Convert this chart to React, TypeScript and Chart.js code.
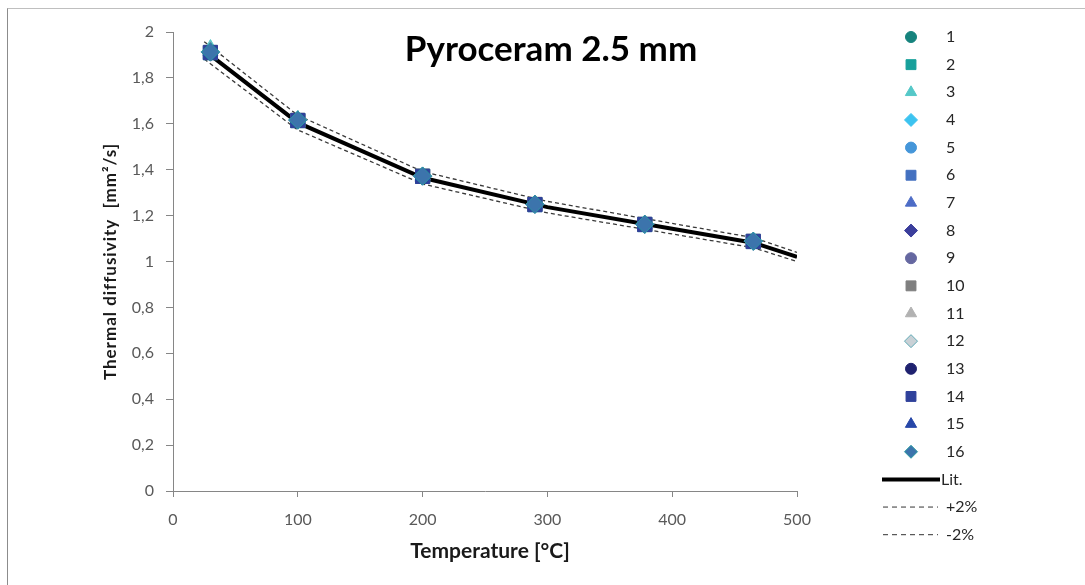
import React, { useEffect, useRef } from "react";
import { Chart, registerables } from "chart.js";

Chart.register(...registerables);

// ---------- data ----------
const temperatures = [30, 100, 200, 290, 378, 465];

const series1 = [1.912, 1.616, 1.372, 1.249, 1.162, 1.088];
const series2 = [1.910, 1.614, 1.371, 1.248, 1.161, 1.087];
const series3 = [1.930, 1.622, 1.375, 1.252, 1.164, 1.090];
const series4 = [1.914, 1.617, 1.372, 1.250, 1.162, 1.089];
const series5 = [1.913, 1.616, 1.373, 1.249, 1.163, 1.088];
const series6 = [1.911, 1.615, 1.371, 1.248, 1.162, 1.088];
const series7 = [1.918, 1.619, 1.374, 1.251, 1.163, 1.089];
const series8 = [1.912, 1.616, 1.372, 1.249, 1.162, 1.088];
const series9 = [1.913, 1.617, 1.373, 1.250, 1.163, 1.089];
const series10 = [1.911, 1.615, 1.372, 1.249, 1.162, 1.088];
const series11 = [1.920, 1.620, 1.374, 1.251, 1.164, 1.090];
const series12 = [1.914, 1.617, 1.373, 1.250, 1.163, 1.089];
const series13 = [1.912, 1.616, 1.372, 1.249, 1.162, 1.088];
const series14 = [1.910, 1.614, 1.371, 1.248, 1.161, 1.087];
const series15 = [1.916, 1.618, 1.373, 1.250, 1.163, 1.089];
const series16 = [1.913, 1.616, 1.372, 1.249, 1.162, 1.088];

const litTemperatures = [25, 100, 200, 300, 400, 465, 500];
const litValues = [1.92, 1.605, 1.365, 1.237, 1.143, 1.082, 1.02];
const plusTwoValues = [1.958, 1.637, 1.392, 1.262, 1.166, 1.104, 1.04];
const minusTwoValues = [1.882, 1.573, 1.338, 1.212, 1.12, 1.06, 1.0];

const seriesLabels = ["1", "2", "3", "4", "5", "6", "7", "8", "9", "10", "11", "12", "13", "14", "15", "16"];
const lineLabels = ["Lit.", "+2%", "-2%"];
const yTickLabels = ["0", "0,2", "0,4", "0,6", "0,8", "1", "1,2", "1,4", "1,6", "1,8", "2"];
const xTickLabels = ["0", "100", "200", "300", "400", "500"];

const titleText = "Pyroceram 2.5 mm";
const xTitleText = "Temperature [°C]";
const yTitleText = "Thermal diffusivity  [mm²/s]";

// ---------- styles ----------
const FONT = "Lato, 'Open Sans', 'DejaVu Sans', sans-serif";
const allSeries = [
  series1, series2, series3, series4, series5, series6, series7, series8,
  series9, series10, series11, series12, series13, series14, series15, series16,
];
const markerStyles = [
  { shape: "circle", fill: "#16837d", stroke: "#16837d" },
  { shape: "rect", fill: "#17a09b", stroke: "#17a09b" },
  { shape: "triangle", fill: "#55c8c8", stroke: "#55c8c8" },
  { shape: "rectRot", fill: "#3cc3f0", stroke: "#3cc3f0" },
  { shape: "circle", fill: "#4596d9", stroke: "#4596d9" },
  { shape: "rect", fill: "#4370c0", stroke: "#4370c0" },
  { shape: "triangle", fill: "#4d6cc6", stroke: "#4d6cc6" },
  { shape: "rectRot", fill: "#3b3e9c", stroke: "#3b3e9c" },
  { shape: "circle", fill: "#6567a0", stroke: "#6567a0" },
  { shape: "rect", fill: "#7f7f7f", stroke: "#7f7f7f" },
  { shape: "triangle", fill: "#b2b2b2", stroke: "#b2b2b2" },
  { shape: "rectRot", fill: "#c9d1d6", stroke: "#5fa8b4" },
  { shape: "circle", fill: "#1f216f", stroke: "#1f216f" },
  { shape: "rect", fill: "#2f419b", stroke: "#2f419b" },
  { shape: "triangle", fill: "#2747a8", stroke: "#2747a8" },
  { shape: "rectRot", fill: "#3c74ac", stroke: "#2a9aa0" },
];
const plotRadius: Record<string, number> = { circle: 7, rect: 10, triangle: 8.5, rectRot: 9 };
const legendRadius: Record<string, number> = { circle: 5.5, rect: 7, triangle: 6.5, rectRot: 6.5 };

function drawShape(ctx: CanvasRenderingContext2D, shape: string, x: number, y: number, r: number, fill: string, stroke: string) {
  ctx.save();
  ctx.beginPath();
  if (shape === "circle") {
    ctx.arc(x, y, r, 0, Math.PI * 2);
  } else if (shape === "rect") {
    const s = r * Math.SQRT1_2;
    ctx.rect(x - s, y - s, 2 * s, 2 * s);
  } else if (shape === "triangle") {
    ctx.moveTo(x, y - r);
    ctx.lineTo(x + r * 0.866, y + r * 0.5);
    ctx.lineTo(x - r * 0.866, y + r * 0.5);
    ctx.closePath();
  } else {
    ctx.moveTo(x, y - r);
    ctx.lineTo(x + r, y);
    ctx.lineTo(x, y + r);
    ctx.lineTo(x - r, y);
    ctx.closePath();
  }
  ctx.fillStyle = fill;
  ctx.fill();
  ctx.strokeStyle = stroke;
  ctx.lineWidth = 1;
  ctx.stroke();
  ctx.restore();
}

const overlayPlugin = {
  id: "overlay",
  afterDraw(chart: any) {
    const ctx: CanvasRenderingContext2D = chart.ctx;
    const area = chart.chartArea;
    ctx.save();
    // title
    ctx.fillStyle = "#000000";
    ctx.font = `bold 35px ${FONT}`;
    ctx.textAlign = "center";
    ctx.textBaseline = "middle";
    ctx.fillText(titleText, area.left + 378, area.top + 18);
    // x title
    ctx.font = `bold 21px ${FONT}`;
    ctx.fillStyle = "#1a1a1a";
    ctx.fillText(xTitleText, (area.left + area.right) / 2 + 5, area.bottom + 60);
    // y title
    ctx.save();
    ctx.translate(area.left - 62, (area.top + area.bottom) / 2);
    ctx.rotate(-Math.PI / 2);
    ctx.font = `bold 17px ${FONT}`;
    try { (ctx as any).letterSpacing = "1px"; } catch (e) { /* ignore */ }
    ctx.fillText(yTitleText, 0, 0);
    try { (ctx as any).letterSpacing = "0px"; } catch (e) { /* ignore */ }
    ctx.restore();

    // legend
    const markerX = area.right + 114;
    const textX = area.right + 149;
    const rowY0 = area.top + 5;
    const rowH = 27.65;
    ctx.font = `16px ${FONT}`;
    ctx.textAlign = "left";
    ctx.textBaseline = "middle";
    seriesLabels.forEach((label, i) => {
      const y = rowY0 + i * rowH;
      const st = markerStyles[i];
      drawShape(ctx, st.shape, markerX, y, legendRadius[st.shape], st.fill, st.stroke);
      ctx.fillStyle = "#262626";
      ctx.fillText(label, textX, y);
    });
    lineLabels.forEach((label, j) => {
      const y = rowY0 + (16 + j) * rowH;
      ctx.save();
      ctx.beginPath();
      if (j === 0) {
        ctx.lineWidth = 4;
        ctx.strokeStyle = "#000000";
        ctx.moveTo(area.right + 85, y);
        ctx.lineTo(area.right + 143, y);
      } else {
        ctx.lineWidth = 1;
        ctx.strokeStyle = "#333333";
        ctx.setLineDash([5, 4]);
        ctx.moveTo(area.right + 86, y);
        ctx.lineTo(area.right + 141, y);
      }
      ctx.stroke();
      ctx.restore();
      ctx.fillStyle = "#262626";
      ctx.fillText(label, j === 0 ? area.right + 144 : textX, y);
    });
    ctx.restore();
  },
};

export default function App() {
  const canvasRef = useRef<HTMLCanvasElement | null>(null);

  useEffect(() => {
    document.body.style.margin = "0";
    const canvas = canvasRef.current;
    if (!canvas) return;

    const markerDatasets = allSeries.map((vals, i) => {
      const st = markerStyles[i];
      return {
        type: "scatter" as const,
        label: seriesLabels[i],
        data: temperatures.map((t, k) => ({ x: t, y: vals[k] })),
        pointStyle: st.shape,
        pointRadius: plotRadius[st.shape],
        pointHoverRadius: plotRadius[st.shape],
        backgroundColor: st.fill,
        borderColor: st.stroke,
        pointBorderWidth: 1,
        showLine: false,
        order: 15 - i,
      };
    });

    const lineDataset = (label: string, vals: number[], width: number, color: string, dash: number[], order: number) => ({
      type: "line" as const,
      label,
      data: litTemperatures.map((t, k) => ({ x: t, y: vals[k] })),
      borderColor: color,
      borderWidth: width,
      borderDash: dash,
      pointRadius: 0,
      fill: false,
      tension: 0,
      order,
    });

    const chart = new Chart(canvas, {
      type: "scatter",
      data: {
        datasets: [
          ...markerDatasets,
          lineDataset(lineLabels[0], litValues, 4, "#000000", [], 16),
          lineDataset(lineLabels[1], plusTwoValues, 1.3, "#3a3a3a", [4, 3], 17),
          lineDataset(lineLabels[2], minusTwoValues, 1.3, "#3a3a3a", [4, 3], 18),
        ] as any,
      },
      options: {
        animation: false,
        responsive: false,
        devicePixelRatio: 1,
        layout: { padding: { left: 0, top: 32, right: 288, bottom: 0 } },
        plugins: {
          legend: { display: false },
          tooltip: { enabled: false },
          title: { display: false },
        },
        scales: {
          x: {
            type: "linear",
            min: 0,
            max: 500,
            afterFit: (scale: any) => { scale.height = 94; },
            afterBuildTicks: (scale: any) => {
              scale.ticks = xTickLabels.map((l) => ({ value: Number(l) }));
            },
            ticks: {
              font: { family: FONT, size: 16 },
              color: "#595959",
              padding: 13,
              maxRotation: 0,
              callback: (_v: any, i: number) => xTickLabels[i],
            },
            grid: {
              display: true,
              drawOnChartArea: false,
              drawTicks: true,
              tickLength: 6,
              tickColor: "#868686",
              tickWidth: 1,
            },
            border: { display: true, color: "#868686", width: 1 },
          },
          y: {
            type: "linear",
            min: 0,
            max: 2,
            afterFit: (scale: any) => { scale.width = 173; },
            afterBuildTicks: (scale: any) => {
              scale.ticks = yTickLabels.map((_l, i) => ({ value: i * 0.2 }));
            },
            ticks: {
              font: { family: FONT, size: 16 },
              color: "#595959",
              padding: 12,
              callback: (_v: any, i: number) => yTickLabels[i],
            },
            grid: {
              display: true,
              drawOnChartArea: false,
              drawTicks: true,
              tickLength: 7,
              tickColor: "#868686",
              tickWidth: 1,
            },
            border: { display: true, color: "#868686", width: 1 },
          },
        },
      },
      plugins: [overlayPlugin],
    });

    return () => chart.destroy();
  }, []);

  return (
    <div style={{ position: "absolute", left: 0, top: 0, width: 1085, height: 585, background: "#ffffff" }}>
      <canvas ref={canvasRef} width={1085} height={585} style={{ position: "absolute", left: 0, top: 0 }} />
      <div
        style={{
          position: "absolute",
          left: 7,
          top: 8,
          width: 1078,
          height: 577,
          borderTop: "1px solid #bfbfbf",
          borderLeft: "1px solid #8c8c8c",
          boxSizing: "border-box",
          pointerEvents: "none",
        }}
      />
    </div>
  );
}
